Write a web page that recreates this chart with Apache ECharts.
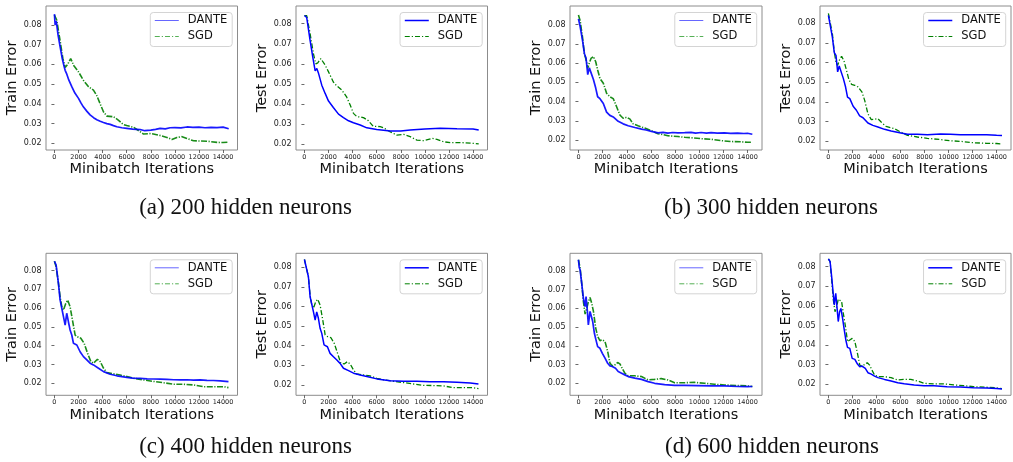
<!DOCTYPE html>
<html><head><meta charset="utf-8">
<script src="https://cdn.jsdelivr.net/npm/echarts@6/dist/echarts.min.js"></script>
<style>html,body{margin:0;padding:0;background:#fff}#c{width:1013px;height:462px}</style>
</head><body><div id="c"></div><script>
// ---------- data ----------
const xTicks = [0, 2000, 4000, 6000, 8000, 10000, 12000, 14000];
const yTicks = [0.02, 0.03, 0.04, 0.05, 0.06, 0.07, 0.08];
const seriesNames = ['DANTE', 'SGD'];
const yNames = ['Train Error', 'Test Error', 'Train Error', 'Test Error', 'Train Error', 'Test Error', 'Train Error', 'Test Error'];
const xName = 'Minibatch Iterations';
const captions = ['(a) 200 hidden neurons', '(b) 300 hidden neurons', '(c) 400 hidden neurons', '(d) 600 hidden neurons'];

// [iteration, error]
const trainA_dante = [[0,0.0855],[60,0.080],[150,0.082],[300,0.075],[470,0.069],[650,0.063],[800,0.059],[890,0.057],[1000,0.0555],[1200,0.052],[1440,0.0487],[1700,0.0455],[2000,0.0428],[2200,0.0405],[2400,0.0385],[2700,0.0362],[2960,0.0344],[3250,0.0330],[3520,0.032],[3800,0.0312],[4070,0.0306],[4350,0.0300],[4630,0.0296],[4900,0.0290],[5180,0.0284],[5600,0.0279],[6000,0.0276],[6500,0.0272],[7120,0.027],[7500,0.0264],[8000,0.0267],[8400,0.0271],[8780,0.0276],[9200,0.0273],[9600,0.0279],[10000,0.028],[10500,0.0278],[11000,0.0283],[11500,0.0281],[12000,0.0282],[12500,0.0279],[13000,0.0281],[13500,0.0280],[14000,0.0282],[14470,0.0274]];
const trainA_sgd = [[0,0.085],[190,0.0825],[470,0.072],[700,0.063],[890,0.0585],[1100,0.060],[1350,0.063],[1600,0.0595],[2000,0.0562],[2400,0.052],[2830,0.0487],[3240,0.047],[3500,0.0444],[3800,0.040],[4070,0.036],[4350,0.0338],[4900,0.0335],[5300,0.0318],[5700,0.0296],[6000,0.029],[6550,0.0282],[7100,0.026],[7400,0.0247],[8000,0.025],[8640,0.0242],[9340,0.023],[9750,0.022],[10170,0.023],[10600,0.0234],[11000,0.0225],[11550,0.0213],[12110,0.0212],[12660,0.0211],[13500,0.0205],[14000,0.0204],[14470,0.0206]];
const testA_dante = [[0,0.084],[190,0.083],[470,0.0717],[690,0.0635],[890,0.0565],[1030,0.0577],[1160,0.0555],[1440,0.0494],[1720,0.0453],[2000,0.0415],[2400,0.0383],[2830,0.035],[3240,0.0333],[3660,0.0317],[4070,0.0307],[4630,0.0296],[5180,0.0282],[6000,0.0274],[7120,0.0266],[8000,0.0266],[8780,0.0271],[10000,0.0276],[11270,0.028],[12660,0.0277],[14000,0.0276],[14470,0.0271]];
const testA_sgd = [[0,0.084],[190,0.084],[470,0.075],[750,0.065],[940,0.060],[1110,0.0605],[1360,0.0626],[1720,0.0594],[2000,0.056],[2400,0.051],[2690,0.049],[3100,0.047],[3500,0.0436],[3800,0.0395],[4070,0.0354],[4350,0.0338],[4900,0.0333],[5300,0.0318],[5700,0.029],[6290,0.0288],[6550,0.0283],[7100,0.0263],[7670,0.0246],[8230,0.025],[8780,0.0238],[9340,0.0221],[9900,0.0218],[10600,0.023],[11000,0.0225],[11550,0.0213],[12110,0.0208],[12940,0.0209],[14000,0.0205],[14470,0.0202]];
const trainB_dante = [[0,0.083],[140,0.079],[330,0.072],[490,0.065],[630,0.0625],[770,0.054],[900,0.0575],[1040,0.058],[1240,0.0515],[1430,0.047],[1590,0.0425],[1780,0.0415],[2060,0.039],[2330,0.0345],[2600,0.0328],[2880,0.032],[3290,0.0297],[3700,0.0284],[4120,0.0274],[4670,0.0265],[5220,0.0257],[5600,0.0252],[6040,0.0245],[6590,0.0237],[7000,0.0240],[7410,0.0236],[7800,0.0239],[8240,0.0237],[8800,0.0238],[9330,0.024],[9700,0.0236],[10160,0.0239],[10600,0.0236],[10980,0.0238],[11500,0.0236],[12080,0.0237],[12600,0.0235],[13180,0.0236],[13700,0.0234],[14000,0.0235],[14400,0.023]];
const trainB_sgd = [[0,0.085],[140,0.082],[330,0.0737],[490,0.065],[630,0.0617],[770,0.0573],[900,0.060],[1040,0.0624],[1240,0.0634],[1430,0.0607],[1590,0.0564],[1780,0.052],[2060,0.0495],[2330,0.0443],[2600,0.0425],[2880,0.0415],[3160,0.0373],[3430,0.033],[3700,0.0313],[3980,0.0318],[4250,0.031],[4530,0.0284],[4940,0.0274],[5490,0.0262],[6040,0.0248],[6590,0.0233],[7000,0.0228],[7410,0.0222],[8240,0.0218],[8800,0.0214],[9330,0.0212],[10160,0.0207],[10980,0.0204],[11800,0.0197],[12630,0.0192],[13450,0.0191],[14000,0.0188],[14400,0.0189]];
const testB_dante = [[0,0.084],[140,0.083],[330,0.073],[490,0.065],[630,0.0637],[770,0.0553],[900,0.0583],[1040,0.0587],[1240,0.052],[1430,0.0476],[1590,0.0425],[1780,0.0417],[2060,0.0378],[2330,0.0358],[2600,0.0329],[2880,0.032],[3290,0.0293],[3700,0.0281],[4120,0.0273],[4670,0.0261],[5220,0.0253],[6040,0.0242],[6590,0.0236],[7410,0.0236],[8240,0.0234],[9330,0.0237],[10160,0.0236],[10980,0.0234],[12080,0.0234],[13180,0.0234],[14000,0.0231],[14450,0.023]];
const testB_sgd = [[0,0.085],[140,0.084],[330,0.0747],[490,0.0654],[630,0.0603],[770,0.0586],[960,0.062],[1100,0.0632],[1290,0.061],[1510,0.056],[1700,0.0515],[1920,0.049],[2200,0.0485],[2470,0.0476],[2800,0.045],[3020,0.0408],[3290,0.034],[3570,0.031],[3840,0.0312],[4120,0.0315],[4390,0.0298],[4800,0.0276],[5490,0.0264],[6040,0.0247],[6590,0.023],[7410,0.0222],[8240,0.0215],[9330,0.0209],[10160,0.0203],[10980,0.02],[12080,0.0193],[13180,0.019],[14000,0.0189],[14450,0.0187]];
const trainC_dante = [[0,0.085],[140,0.083],[330,0.0733],[470,0.0644],[610,0.065],[750,0.0555],[890,0.051],[1020,0.0573],[1160,0.0528],[1300,0.0484],[1440,0.0457],[1580,0.0413],[1860,0.0404],[2130,0.0368],[2410,0.0342],[2690,0.0325],[2960,0.0307],[3240,0.0298],[3660,0.028],[4080,0.0262],[4630,0.0248],[5180,0.024],[5600,0.0236],[6010,0.0232],[6500,0.0228],[7120,0.0226],[7700,0.0224],[8230,0.0223],[8800,0.0222],[9340,0.0221],[9900,0.0219],[10440,0.0218],[11000,0.0219],[11550,0.0217],[12100,0.0218],[12660,0.0216],[13200,0.0215],[13770,0.0213],[14450,0.0209]];
const trainC_sgd = [[0,0.085],[140,0.082],[330,0.0735],[470,0.0662],[610,0.0608],[750,0.059],[940,0.0625],[1100,0.0643],[1300,0.0608],[1520,0.0528],[1720,0.0457],[1910,0.0448],[2190,0.044],[2470,0.0413],[2750,0.036],[3020,0.0316],[3240,0.0307],[3570,0.0328],[3800,0.0316],[4080,0.028],[4350,0.0257],[4900,0.025],[5460,0.0244],[6010,0.0236],[6570,0.0227],[7400,0.0218],[8230,0.021],[9060,0.0203],[9890,0.0195],[10720,0.0195],[11550,0.0191],[12380,0.0182],[13210,0.0182],[14040,0.0182],[14450,0.0177]];
const testC_dante = [[0,0.084],[140,0.0835],[330,0.0752],[470,0.065],[610,0.0642],[750,0.0573],[890,0.0531],[1020,0.0573],[1160,0.054],[1300,0.0489],[1440,0.0463],[1630,0.0404],[1910,0.0395],[2130,0.0361],[2410,0.0344],[2690,0.0327],[2960,0.031],[3240,0.0285],[3660,0.0273],[4080,0.026],[4630,0.0251],[5180,0.0243],[6010,0.0231],[7120,0.0222],[8230,0.0219],[9340,0.0219],[10440,0.0217],[11550,0.0217],[12660,0.0214],[13770,0.021],[14450,0.0205]];
const testC_sgd = [[0,0.084],[140,0.0833],[330,0.0752],[470,0.0659],[610,0.0608],[750,0.0591],[940,0.0625],[1100,0.0637],[1300,0.0608],[1520,0.0532],[1720,0.0455],[1910,0.0447],[2190,0.0442],[2470,0.0413],[2750,0.0362],[3020,0.0311],[3300,0.0307],[3570,0.0319],[3800,0.0307],[4080,0.0276],[4350,0.0256],[4900,0.0251],[5460,0.0246],[6010,0.0234],[6570,0.0226],[7400,0.0219],[8230,0.0212],[9060,0.0205],[9890,0.0198],[10720,0.0197],[11550,0.0195],[12380,0.0186],[13210,0.0186],[14040,0.0186],[14450,0.0181]];
const trainD_dante = [[0,0.086],[60,0.082],[140,0.0805],[270,0.0734],[410,0.0654],[550,0.061],[630,0.0663],[740,0.0584],[820,0.0512],[960,0.0584],[1040,0.0593],[1180,0.053],[1320,0.0467],[1450,0.0432],[1590,0.0396],[1780,0.0387],[1980,0.036],[2200,0.0334],[2420,0.0307],[2610,0.0293],[2800,0.029],[3070,0.028],[3290,0.0263],[3570,0.0254],[3840,0.0245],[4120,0.0236],[4670,0.0228],[5220,0.0221],[5770,0.0209],[6310,0.02],[7140,0.0193],[7960,0.0189],[8780,0.0189],[9880,0.0188],[10980,0.0186],[12080,0.0186],[13180,0.0183],[14000,0.0182],[14400,0.0183]];
const trainD_sgd = [[0,0.086],[140,0.0814],[270,0.0734],[410,0.0636],[550,0.057],[690,0.06],[820,0.0636],[960,0.0658],[1100,0.0627],[1240,0.0584],[1430,0.0495],[1590,0.045],[1780,0.0428],[1980,0.0432],[2200,0.0423],[2420,0.037],[2610,0.0307],[2800,0.0293],[3020,0.0299],[3240,0.0311],[3430,0.0304],[3620,0.028],[3840,0.0254],[4120,0.024],[4670,0.024],[5220,0.0236],[5770,0.0218],[6310,0.0221],[6860,0.0225],[7410,0.0218],[7960,0.0203],[8780,0.0203],[9610,0.0205],[10430,0.02],[11250,0.0195],[12080,0.0191],[13180,0.0188],[14000,0.0186],[14400,0.0183]];
const testD_dante = [[0,0.084],[140,0.0826],[270,0.0749],[410,0.0656],[490,0.0605],[610,0.0664],[710,0.0596],[820,0.052],[930,0.057],[1040,0.0587],[1180,0.0536],[1320,0.0477],[1450,0.0426],[1590,0.0388],[1780,0.0383],[1980,0.0332],[2200,0.0327],[2420,0.0303],[2610,0.029],[2800,0.0293],[3070,0.0281],[3290,0.0259],[3570,0.0252],[3840,0.0242],[4120,0.0234],[4670,0.0225],[5220,0.0217],[5770,0.0208],[6310,0.0203],[7140,0.0197],[7960,0.0193],[8780,0.0192],[9880,0.0188],[10980,0.0186],[12080,0.0183],[13180,0.0181],[14000,0.0179],[14450,0.0176]];
const testD_sgd = [[0,0.084],[140,0.0826],[270,0.0732],[410,0.063],[550,0.057],[690,0.0596],[820,0.0634],[960,0.0643],[1100,0.0622],[1240,0.0562],[1430,0.0491],[1590,0.0418],[1780,0.0426],[1980,0.0434],[2200,0.0418],[2420,0.0358],[2610,0.0298],[2800,0.029],[3020,0.0302],[3240,0.031],[3430,0.0298],[3620,0.0273],[3840,0.0247],[4120,0.0239],[4670,0.0239],[5220,0.0234],[5770,0.0222],[6310,0.0225],[6860,0.0225],[7410,0.0217],[7960,0.0205],[8780,0.0202],[9610,0.0202],[10430,0.0197],[11250,0.0193],[12080,0.0188],[13180,0.0185],[14000,0.0182],[14450,0.0178]];

const panelData = [
  [trainA_dante, trainA_sgd], [testA_dante, testA_sgd], [trainB_dante, trainB_sgd], [testB_dante, testB_sgd],
  [trainC_dante, trainC_sgd], [testC_dante, testC_sgd], [trainD_dante, trainD_sgd], [testD_dante, testD_sgd]
];

// ---------- layout ----------
const xRange = [-700, 15200];
const yRanges = [[0.01663,0.0896],[0.01719,0.08874],[0.01481,0.08966],[0.0156,0.08877],[0.01361,0.08923],[0.01473,0.08714],[0.01359,0.08944],[0.01439,0.0868]];
const frames = [ // left, top, width, height
  [46,6,191.5,144],[296,6,191.5,144],[570,6,192,144],[820,6,191,144],
  [46,253.3,191.5,142],[296,253.3,191.5,142],[570,253.3,192,142],[820,253.3,191,142]
];
const captionPos = [[245.5,208],[771,208],[245.5,447],[772,447]];

const FONT = 'DejaVu Sans';
const BLUE = '#0000ff', GREEN = '#008000';

const grid = [], xAxis = [], yAxis = [], series = [], legend = [];
frames.forEach((f, i) => {
  const isTrain = i % 2 === 0;
  grid.push({left: f[0], top: f[1], width: f[2], height: f[3], show: true, borderColor: '#8c8c8c', borderWidth: 1});
  xAxis.push({
    gridIndex: i, type: 'value', min: xRange[0], max: xRange[1],
    axisLine: {show: false}, splitLine: {show: false},
    axisTick: {show: true, customValues: xTicks, length: 3, lineStyle: {color: '#444', width: 0.8}},
    axisLabel: {customValues: xTicks, formatter: v => String(Math.round(v)), fontSize: 6.5, margin: 4, color: '#222', fontFamily: FONT},
    name: xName, nameLocation: 'middle', nameGap: 12,
    nameTextStyle: {fontSize: 14.5, color: '#111', fontFamily: FONT}
  });
  yAxis.push({
    gridIndex: i, type: 'value', min: yRanges[i][0], max: yRanges[i][1],
    axisLine: {show: false}, splitLine: {show: false},
    axisTick: {show: true, customValues: yTicks, length: 3, lineStyle: {color: '#444', width: 0.8}},
    axisLabel: {customValues: yTicks, formatter: v => v.toFixed(2), fontSize: 8, margin: 4.5, color: '#222', fontFamily: FONT},
    name: yNames[i], nameLocation: 'middle', nameGap: 26,
    nameTextStyle: {fontSize: 14.5, color: '#111', fontFamily: FONT}
  });
  const dStyle = {color: BLUE, width: isTrain ? 1.7 : 1.5, type: 'solid', opacity: isTrain ? 0.9 : 1};
  const sStyle = {color: GREEN, width: isTrain ? 1.6 : 1.3, type: isTrain ? [6, 1.5, 1.2, 1.5] : [5, 2, 1.2, 2], opacity: isTrain ? 0.9 : 1};
  series.push({name: seriesNames[0], type: 'line', xAxisIndex: i, yAxisIndex: i, data: panelData[i][0],
    showSymbol: false, symbol: 'none', lineStyle: dStyle, itemStyle: {color: BLUE}, z: 3, silent: true});
  series.push({name: seriesNames[1], type: 'line', xAxisIndex: i, yAxisIndex: i, data: panelData[i][1],
    showSymbol: false, symbol: 'none', lineStyle: sStyle, itemStyle: {color: GREEN}, z: 2, silent: true});
  legend.push({
    orient: 'vertical', right: 1013 - (f[0] + f[2] - 5.3), top: f[1] + 6.5,
    itemWidth: 24, itemHeight: 8, itemGap: 4, padding: [2, 5, 4, 4], selectedMode: false,
    borderColor: '#d4d4d4', borderWidth: 1, borderRadius: 3, backgroundColor: 'rgba(255,255,255,0.85)',
    textStyle: {fontSize: 11.5, color: '#111', fontFamily: FONT, padding: [0, 0, 0, 4]},
    itemStyle: {opacity: 0, borderWidth: 0},
    data: [
      {name: seriesNames[0], itemStyle: {opacity: 0, borderWidth: 0}, lineStyle: {color: isTrain ? '#6666ff' : BLUE, width: isTrain ? 1 : 1.5, type: 'solid', opacity: 1}},
      {name: seriesNames[1], itemStyle: {opacity: 0, borderWidth: 0}, lineStyle: {color: isTrain ? '#55b055' : GREEN, width: 1, type: [5, 2, 1.2, 2], opacity: 1}}
    ]
  });
});

const graphic = captions.map((t, k) => ({
  type: 'text', x: captionPos[k][0], y: captionPos[k][1], silent: true,
  style: {text: t, align: 'center', verticalAlign: 'middle', fill: '#111', font: '23px "Liberation Serif"'}
}));

const chart = echarts.init(document.getElementById('c'), null, {renderer: 'canvas'});
chart.setOption({animation: false, backgroundColor: '#fff', grid, xAxis, yAxis, series, legend, graphic});
</script></body></html>
